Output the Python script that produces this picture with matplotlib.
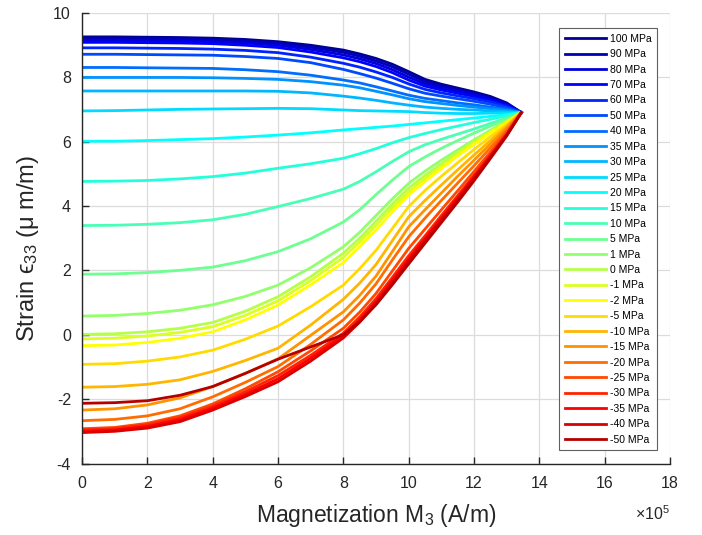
import numpy as np
import matplotlib.pyplot as plt

# 磁化强度 M3，单位 1e5 A/m
m3 = [0, 1, 2, 3, 4, 5, 6, 7, 8, 8.5, 9, 9.5, 10, 10.5, 11, 11.5, 12, 12.5, 13, 13.45]

# 各预应力下的应变 (μ m/m)
p100 = [9.25, 9.25, 9.24, 9.23, 9.21, 9.17, 9.10, 8.99, 8.84, 8.72, 8.58, 8.40, 8.17, 7.93, 7.78, 7.66, 7.54, 7.40, 7.20, 6.90]
p90 = [9.20, 9.20, 9.19, 9.18, 9.16, 9.12, 9.05, 8.93, 8.77, 8.65, 8.50, 8.32, 8.09, 7.86, 7.72, 7.61, 7.49, 7.36, 7.17, 6.90]
p80 = [9.14, 9.14, 9.13, 9.12, 9.10, 9.06, 8.99, 8.86, 8.69, 8.57, 8.42, 8.23, 8.00, 7.79, 7.66, 7.56, 7.45, 7.32, 7.15, 6.90]
p70 = [9.08, 9.08, 9.07, 9.06, 9.04, 8.99, 8.92, 8.78, 8.60, 8.48, 8.33, 8.14, 7.91, 7.72, 7.60, 7.50, 7.40, 7.28, 7.12, 6.90]
p60 = [8.91, 8.91, 8.90, 8.89, 8.87, 8.83, 8.76, 8.62, 8.43, 8.31, 8.16, 7.99, 7.79, 7.62, 7.51, 7.42, 7.33, 7.23, 7.09, 6.90]
p50 = [8.71, 8.71, 8.70, 8.69, 8.68, 8.64, 8.58, 8.45, 8.24, 8.11, 7.97, 7.81, 7.64, 7.50, 7.41, 7.33, 7.25, 7.16, 7.05, 6.90]
p40 = [8.30, 8.30, 8.29, 8.28, 8.27, 8.23, 8.17, 8.06, 7.91, 7.82, 7.70, 7.57, 7.44, 7.34, 7.27, 7.20, 7.14, 7.07, 7.00, 6.90]
p35 = [7.99, 7.99, 7.99, 7.99, 7.98, 7.96, 7.93, 7.86, 7.75, 7.67, 7.56, 7.45, 7.33, 7.24, 7.18, 7.12, 7.07, 7.02, 6.97, 6.90]
p30 = [7.57, 7.57, 7.57, 7.57, 7.57, 7.57, 7.56, 7.51, 7.41, 7.35, 7.28, 7.20, 7.13, 7.07, 7.03, 7.00, 6.98, 6.95, 6.93, 6.90]
p25 = [6.95, 6.96, 6.98, 7.00, 7.01, 7.02, 7.03, 7.02, 6.98, 6.96, 6.95, 6.94, 6.93, 6.90, 6.88, 6.87, 6.87, 6.88, 6.89, 6.90]
p20 = [6.01, 6.01, 6.03, 6.06, 6.09, 6.14, 6.20, 6.27, 6.36, 6.40, 6.44, 6.48, 6.53, 6.58, 6.63, 6.68, 6.73, 6.78, 6.84, 6.90]
p15 = [4.76, 4.77, 4.79, 4.84, 4.91, 5.02, 5.17, 5.31, 5.48, 5.62, 5.78, 5.96, 6.12, 6.25, 6.37, 6.48, 6.59, 6.69, 6.80, 6.90]
p10 = [3.39, 3.40, 3.43, 3.48, 3.57, 3.74, 3.98, 4.23, 4.52, 4.76, 5.06, 5.38, 5.68, 5.90, 6.07, 6.23, 6.39, 6.56, 6.73, 6.90]
p5 = [1.88, 1.89, 1.93, 2.00, 2.10, 2.30, 2.58, 2.98, 3.50, 3.88, 4.35, 4.80, 5.22, 5.52, 5.79, 6.03, 6.26, 6.48, 6.70, 6.90]
p1 = [0.58, 0.60, 0.66, 0.76, 0.93, 1.19, 1.54, 2.08, 2.73, 3.18, 3.70, 4.22, 4.70, 5.08, 5.42, 5.74, 6.05, 6.35, 6.64, 6.90]
p0 = [0.01, 0.03, 0.09, 0.20, 0.38, 0.73, 1.18, 1.80, 2.53, 3.00, 3.52, 4.06, 4.55, 4.95, 5.31, 5.67, 6.01, 6.32, 6.62, 6.90]
m1 = [-0.13, -0.11, -0.04, 0.07, 0.25, 0.60, 1.05, 1.68, 2.40, 2.88, 3.40, 3.94, 4.44, 4.85, 5.23, 5.61, 5.96, 6.29, 6.60, 6.90]
m2 = [-0.34, -0.32, -0.24, -0.11, 0.09, 0.46, 0.92, 1.55, 2.24, 2.73, 3.26, 3.81, 4.34, 4.76, 5.16, 5.55, 5.91, 6.26, 6.59, 6.90]
m5 = [-0.92, -0.90, -0.82, -0.69, -0.48, -0.14, 0.27, 0.87, 1.54, 2.05, 2.62, 3.30, 3.98, 4.48, 4.92, 5.34, 5.75, 6.15, 6.53, 6.90]
m10 = [-1.63, -1.61, -1.54, -1.40, -1.14, -0.80, -0.42, 0.30, 1.10, 1.60, 2.18, 2.92, 3.66, 4.17, 4.65, 5.12, 5.58, 6.03, 6.47, 6.90]
m15 = [-2.34, -2.30, -2.18, -1.96, -1.61, -1.20, -0.75, -0.02, 0.71, 1.22, 1.82, 2.58, 3.35, 3.88, 4.40, 4.92, 5.42, 5.92, 6.42, 6.90]
m20 = [-2.67, -2.63, -2.52, -2.30, -1.93, -1.48, -0.99, -0.30, 0.46, 0.98, 1.58, 2.32, 3.04, 3.62, 4.17, 4.71, 5.25, 5.80, 6.35, 6.90]
m25 = [-2.92, -2.88, -2.75, -2.52, -2.15, -1.68, -1.15, -0.50, 0.20, 0.70, 1.28, 1.98, 2.68, 3.28, 3.88, 4.47, 5.07, 5.67, 6.28, 6.90]
m30 = [-2.96, -2.92, -2.80, -2.58, -2.22, -1.77, -1.27, -0.64, 0.05, 0.55, 1.12, 1.78, 2.45, 3.07, 3.70, 4.32, 4.95, 5.58, 6.23, 6.90]
m35 = [-3.00, -2.96, -2.85, -2.64, -2.28, -1.85, -1.37, -0.73, -0.03, 0.46, 1.03, 1.69, 2.35, 2.98, 3.62, 4.25, 4.90, 5.55, 6.21, 6.90]
m40 = [-3.04, -3.00, -2.90, -2.70, -2.34, -1.92, -1.46, -0.82, -0.10, 0.39, 0.96, 1.62, 2.28, 2.92, 3.56, 4.20, 4.85, 5.52, 6.20, 6.90]
m50 = [-2.13, -2.11, -2.05, -1.88, -1.61, -1.20, -0.76, -0.38, 0.00, 0.40, 0.93, 1.55, 2.20, 2.84, 3.48, 4.12, 4.78, 5.47, 6.17, 6.90]

stress = [100, 90, 80, 70, 60, 50, 40, 35, 30, 25, 20, 15, 10, 5, 1, 0,
          -1, -2, -5, -10, -15, -20, -25, -30, -35, -40, -50]
curves = [p100, p90, p80, p70, p60, p50, p40, p35, p30, p25, p20, p15, p10,
          p5, p1, p0, m1, m2, m5, m10, m15, m20, m25, m30, m35, m40, m50]

x_ticks = [0, 2, 4, 6, 8, 10, 12, 14, 16, 18]
y_ticks = [-4, -2, 0, 2, 4, 6, 8, 10]


def matlab_jet(m):
    # 和 MATLAB 的 jet(m) 一样的取色方式
    n = int(np.ceil(m / 4))
    u = np.concatenate([np.arange(1, n + 1) / n, np.ones(n - 1), np.arange(n, 0, -1) / n])
    g = int(np.ceil(n / 2)) - (1 if m % 4 == 1 else 0) + np.arange(1, len(u) + 1)
    r = g + n
    b = g - n
    J = np.zeros((m, 3))
    for col, idx in ((0, r), (1, g), (2, b)):
        keep = (idx >= 1) & (idx <= m)
        J[idx[keep] - 1, col] = u[keep]
    return J


plt.rcParams['font.family'] = ['Liberation Sans', 'DejaVu Sans']
plt.rcParams['mathtext.fontset'] = 'custom'
plt.rcParams['mathtext.rm'] = 'Liberation Sans'
plt.rcParams['mathtext.it'] = 'Liberation Sans:italic'
plt.rcParams['axes.unicode_minus'] = False

axis_color = '#262626'
colors = matlab_jet(len(curves))

fig = plt.figure(figsize=(7.02, 5.35), dpi=100)
ax = fig.add_axes([0.1168, 0.1336, 0.8376, 0.8426])

for s, y, c in zip(stress, curves, colors):
    ax.plot(m3, y, color=c, lw=2.0, label=f'{s} MPa', solid_joinstyle='round')

ax.set_xlim(0, 18)
ax.set_ylim(-4, 10)
ax.set_xticks(x_ticks)
ax.set_yticks(y_ticks)
ax.grid(True, color='#dcdcdc', lw=0.9)
ax.set_axisbelow(True)

for side in ('top', 'right'):
    ax.spines[side].set_visible(False)
for side in ('left', 'bottom'):
    ax.spines[side].set_color(axis_color)
    ax.spines[side].set_linewidth(1.0)
ax.tick_params(direction='in', length=5, width=1.0, colors=axis_color,
               labelsize=11.5)
ax.tick_params(axis='x', pad=9)
ax.tick_params(axis='y', pad=8)

ax.set_xlabel('Magnetization M$_3$ (A/m)', fontsize=16.5, color=axis_color, labelpad=8)
ax.set_ylabel('Strain ϵ$_{33}$ (μ m/m)', fontsize=17, color=axis_color)
ax.yaxis.set_label_coords(-0.07, 0.478)
ax.text(1.0, -0.112, r'$\times10^5$', transform=ax.transAxes, ha='right', va='center',
        fontsize=11.5, color=axis_color)

leg = ax.legend(loc='upper right', bbox_to_anchor=(0.978, 0.966), borderaxespad=0,
                fontsize=7.5, handlelength=3.9, handletextpad=0.4, labelspacing=0.52,
                borderpad=0.55, fancybox=False, framealpha=1)
leg.get_frame().set_edgecolor('#606060')
leg.get_frame().set_linewidth(0.8)

fig.savefig('out.png', dpi=100)
